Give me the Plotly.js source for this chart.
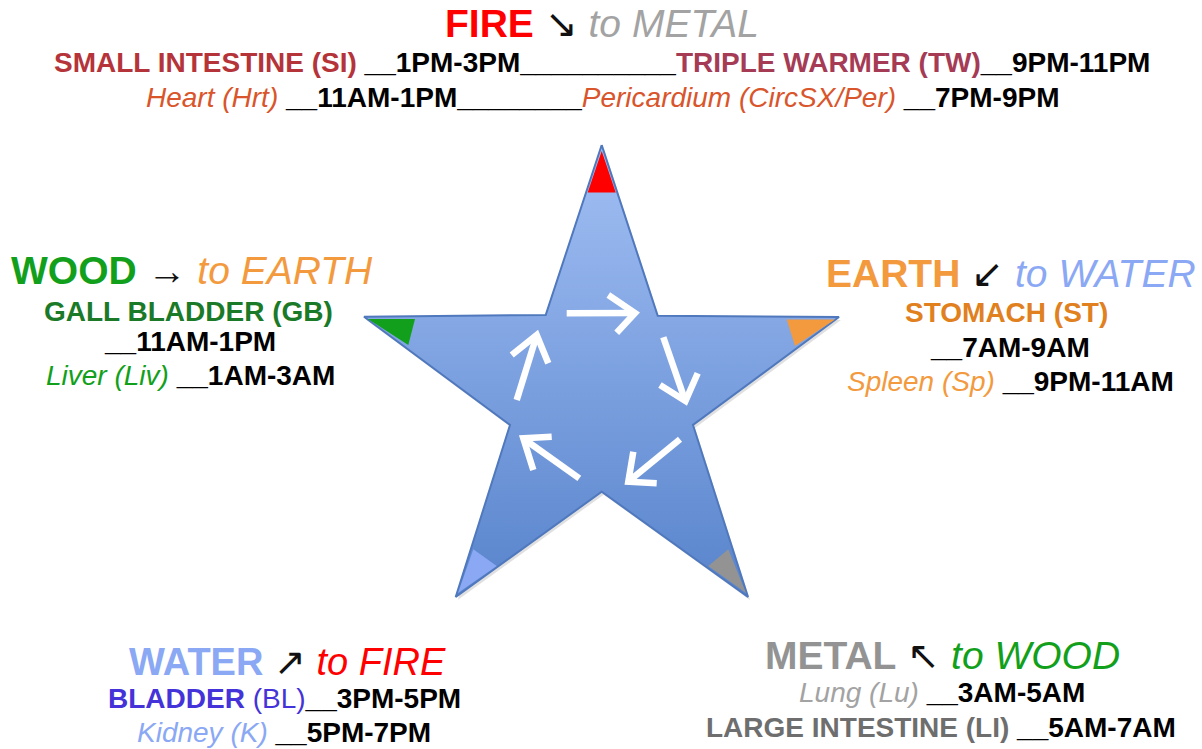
<!DOCTYPE html>
<html><head><meta charset="utf-8">
<script src="https://cdn.plot.ly/plotly-3.0.1.min.js"></script>
<style>html,body{margin:0;padding:0;background:#fff}#chart{width:1202px;height:749px}</style>
</head><body><div id="chart"></div>
<script>
// Star outline vertices (tip, inner, tip, ...)
const starX = [601.7, 657.7, 839, 693, 748, 601.7, 455.7, 510, 364, 545.7, 601.7];
const starY = [145, 315.7, 317, 425, 597, 491.7, 597, 425, 316.7, 315, 145];
// Coloured tip markers per element
const tipFire  = {x:[601.7, 615.7, 587.7, 601.7], y:[151, 192.5, 192.5, 151]};
const tipWood  = {x:[368, 415, 408.3, 368], y:[319, 319, 345, 319]};
const tipEarth = {x:[786.7, 835, 795, 786.7], y:[319.5, 319.5, 346, 319.5]};
const tipWater = {x:[473.3, 496.7, 458, 473.3], y:[549.3, 566, 593, 549.3]};
const tipMetal = {x:[728.3, 708.3, 746, 728.3], y:[549.3, 566, 593, 549.3]};
const tipColors = ['#ff0000', '#12a01c', '#f39a3e', '#8aa8f4', '#939393'];
// Inner cycle arrows: shaft [x0,y0,x1,y1], head wings
const arrowShafts = [
  [566.7, 313.3, 634, 313],
  [663.3, 337.3, 685, 400],
  [680, 439.3, 629, 481],
  [579.3, 478.3, 524, 439],
  [516.7, 400, 536.5, 336]
];
const arrowHeads = [
  [608.3, 295, 635, 313, 616.7, 332.7],
  [660, 385, 685.5, 401, 697.7, 373.3],
  [633.3, 451.7, 628.3, 481.7, 656.7, 483.3],
  [533.3, 470, 523.3, 438.3, 551.7, 436.7],
  [511.7, 355, 536.7, 335, 548.3, 363.3]
];

// Text blocks
const fireLines = [
  '<b><span style="color:#ff0000">FIRE</span></b> <span style="color:#111">↘</span> <i><span style="color:#a3a3a3">to METAL</span></i>',
  '<b><span style="color:#b5343a">SMALL INTESTINE (SI)</span> <span style="color:#000">__1PM-3PM__________</span><span style="color:#a53b55">TRIPLE WARMER (TW)</span><span style="color:#000">__9PM-11PM</span></b>',
  '<i><span style="color:#d9552b">Heart (Hrt)</span></i> <b>__11AM-1PM________</b><i><span style="color:#d9552b">Pericardium (CircSX/Per)</span></i> <b>__7PM-9PM</b>'
];
const woodLines = [
  '<b><span style="color:#12a01c">WOOD</span></b> <span style="color:#111">→</span> <i><span style="color:#f39a3e">to EARTH</span></i>',
  '<b><span style="color:#1a7a28">GALL BLADDER (GB)</span></b>',
  '<b>__11AM-1PM</b>',
  '<i><span style="color:#12a01c">Liver (Liv)</span></i> <b>__1AM-3AM</b>'
];
const earthLines = [
  '<b><span style="color:#f39a3e">EARTH</span></b> <span style="color:#111">↙</span> <i><span style="color:#8aa8f4">to WATER</span></i>',
  '<b><span style="color:#e0801e">STOMACH (ST)</span></b>',
  '<b>__7AM-9AM</b>',
  '<i><span style="color:#f39a3e">Spleen (Sp)</span></i> <b>__9PM-11AM</b>'
];
const waterLines = [
  '<b><span style="color:#8aa8f4">WATER</span></b> <span style="color:#111">↗</span> <i><span style="color:#ff0000">to FIRE</span></i>',
  '<b><span style="color:#4433d8">BLADDER</span></b> <span style="color:#4433d8">(BL)</span><b>__3PM-5PM</b>',
  '<i><span style="color:#8aa8f4">Kidney (K)</span></i> <b>__5PM-7PM</b>'
];
const metalLines = [
  '<b><span style="color:#939393">METAL</span></b> <span style="color:#111">↖</span> <i><span style="color:#12a01c">to WOOD</span></i>',
  '<i><span style="color:#a3a3a3">Lung (Lu)</span></i> <b>__3AM-5AM</b>',
  '<b><span style="color:#6e6e6e">LARGE INTESTINE (LI)</span> __5AM-7AM</b>'
];

const traces = [];
// shadow
traces.push({x: starX.map(v => v + 2), y: starY.map(v => v + 3), mode: 'lines', fill: 'toself',
  fillcolor: 'rgba(0,0,0,0.12)', line: {width: 0}, hoverinfo: 'skip', showlegend: false});
// star
traces.push({x: starX, y: starY, mode: 'lines', fill: 'toself',
  fillgradient: {type: 'vertical', start: 145, stop: 597, colorscale: [[0, '#a2bff4'], [1, '#5884cc']]},
  line: {color: '#4f78bd', width: 2}, hoverinfo: 'skip', showlegend: false});
[tipFire, tipWood, tipEarth, tipWater, tipMetal].forEach((t, i) => {
  traces.push({x: t.x, y: t.y, mode: 'lines', fill: 'toself', fillcolor: tipColors[i],
    line: {width: 0}, hoverinfo: 'skip', showlegend: false});
});
arrowShafts.forEach((s, i) => {
  traces.push({x: [s[0], s[2]], y: [s[1], s[3]], mode: 'lines', line: {color: '#ffffff', width: 6.5},
    hoverinfo: 'skip', showlegend: false});
  const h = arrowHeads[i];
  traces.push({x: [h[0], h[2], h[4]], y: [h[1], h[3], h[5]], mode: 'lines', line: {color: '#ffffff', width: 6.5},
    hoverinfo: 'skip', showlegend: false});
});

const ann = [];
function block(lines, cx, ys, sizes) {
  lines.forEach((t, i) => ann.push({x: cx[i], y: ys[i], xref: 'x', yref: 'y', text: t, showarrow: false,
    xanchor: 'center', yanchor: 'middle', font: {family: 'Liberation Sans, Arial, sans-serif', size: sizes[i], color: '#000'}}));
}
block(fireLines, [602, 602, 602], [23, 62, 97], [39, 28, 28]);
block(woodLines, [192, 188, 190, 190], [270, 311, 341, 375], [39, 28, 28, 28]);
block(earthLines, [1011, 1006, 1010, 1010], [273, 312, 347, 381], [39, 28, 28, 28]);
block(waterLines, [287, 284, 284], [662, 698, 732], [38, 28, 28]);
block(metalLines, [942, 942, 941], [655, 692, 727], [39, 28, 28]);

const layout = {
  width: 1202, height: 749, margin: {l: 0, r: 0, t: 0, b: 0},
  paper_bgcolor: '#fff', plot_bgcolor: '#fff',
  xaxis: {range: [0, 1202], visible: false, fixedrange: true},
  yaxis: {range: [749, 0], visible: false, fixedrange: true},
  annotations: ann, showlegend: false
};
Plotly.newPlot('chart', traces, layout, {staticPlot: true, displayModeBar: false});
</script></body></html>
